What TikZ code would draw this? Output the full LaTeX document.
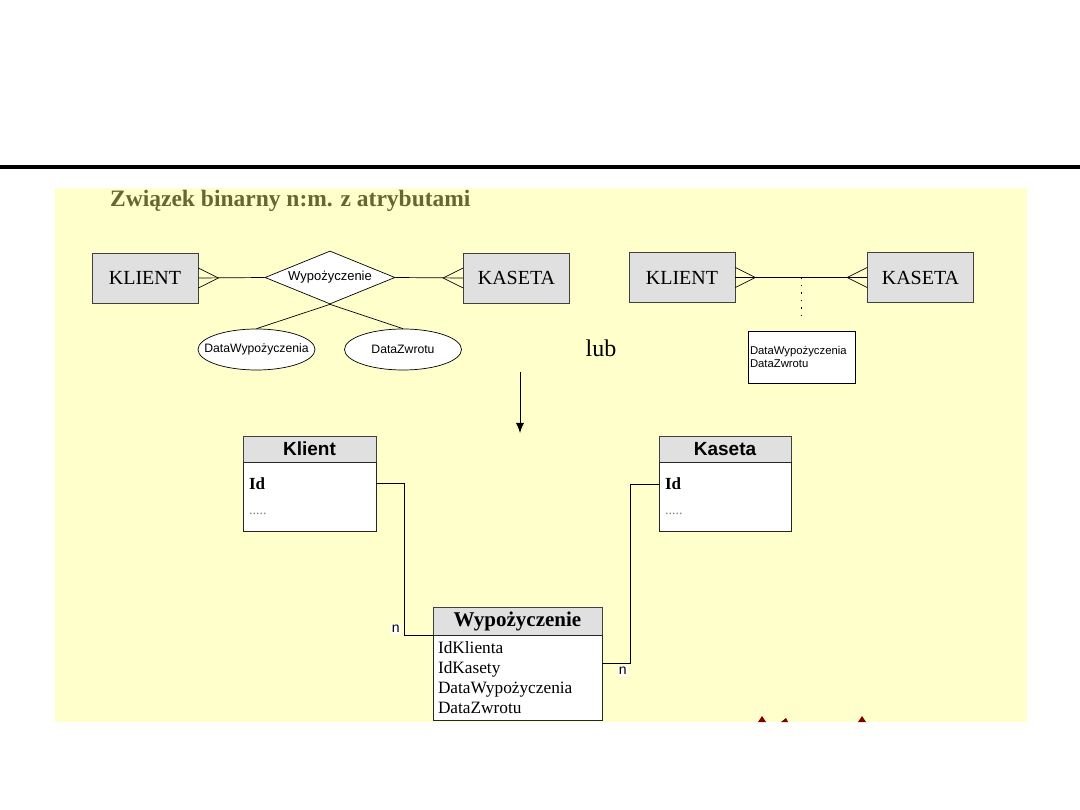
\documentclass[tikz,border=0pt]{standalone}
\usepackage{fontspec}
\setmainfont{Liberation Serif}
\setsansfont{Liberation Sans}
\usetikzlibrary{shapes.geometric, arrows, arrows.meta, positioning}
\definecolor{slideyellow}{RGB}{255,255,204}
\definecolor{entgray}{RGB}{224,224,224}
\definecolor{titleolive}{RGB}{102,102,51}
\definecolor{tipred}{RGB}{128,0,0}
\tikzstyle{arrow} = [line width=0.8pt,-{Latex[length=10pt,width=8pt]}]

\begin{document}
\begin{tikzpicture}[x=1pt, y=-1pt,
    ent/.style={rectangle, draw=black!75, fill=entgray, line width=0.8pt,
                minimum width=106pt, minimum height=50pt, inner sep=0pt,
                font=\fontsize{20}{24}\selectfont},
    rel/.style={diamond, draw=black, fill=white, line width=0.7pt, aspect=2.45,
                minimum width=130pt, minimum height=53pt, inner sep=0pt,
                font=\sffamily\fontsize{13}{15}\selectfont},
    attr/.style={ellipse, draw=black, fill=white, line width=0.7pt,
                 minimum width=117pt, minimum height=41pt, inner xsep=-15pt,
                 inner ysep=0pt, font=\sffamily\fontsize{12.2}{14}\selectfont},
    tblhead/.style={rectangle, draw=black!75, fill=entgray, line width=0.8pt,
                    minimum height=26pt, inner sep=0pt, outer sep=0pt, anchor=north},
    tblbody/.style={rectangle, draw=black!85, fill=white, line width=0.8pt,
                    inner xsep=6pt, inner ysep=0pt, outer sep=0pt, align=left},
    conn/.style={line width=0.7pt},
    nlbl/.style={fill=white, inner sep=1pt, font=\sffamily\fontsize{14}{16}\selectfont}
]
\useasboundingbox (0,0) rectangle (1080,810);

% --- slide frame ---
\draw[line width=4pt] (0,167) -- (1080,167);
\fill[slideyellow] (55,188) rectangle (1027,722);
\node[anchor=base west, text=titleolive, inner sep=0pt,
      font=\bfseries\fontsize{23.5}{27}\selectfont] (title) at (110,207)
    {Związek binarny n:m. z atrybutami};

% --- ER diagram with relationship diamond ---
\node[ent] (kl1) at (145,278) {KLIENT};
\node[ent] (ka1) at (516.5,278) {KASETA};
\node[rel] (dia) at (330,277.5) {Wypożyczenie};
\node[attr] (el1) at (256.5,349.5) {DataWypożyczenia};
\node[attr] (el2) at (403,349.5) {DataZwrotu};

\draw[conn] (kl1.east) -- (dia.west);
\draw[conn] ([yshift=10pt]kl1.east) -- ++(20,10) -- ([yshift=-10pt]kl1.east);
\draw[conn] (ka1.west) -- (dia.east);
\draw[conn] ([yshift=10pt]ka1.west) -- ++(-20,10) -- ([yshift=-10pt]ka1.west);
\draw[conn] (dia.south) -- (el1.north);
\draw[conn] (dia.south) -- (el2.north);

\node[font=\fontsize{24}{28}\selectfont] (lub) at (601,348) {lub};

% --- ER diagram with attribute box ---
\node[ent] (kl2) at (682,277.5) {KLIENT};
\node[ent] (ka2) at (920.5,277.5) {KASETA};
\node[rectangle, draw=black, fill=white, line width=0.7pt, minimum width=107pt,
      minimum height=52pt, inner xsep=2pt, text width=103pt, align=left,
      font=\sffamily\fontsize{11.3}{13}\selectfont] (attrbox) at (801.5,357)
    {DataWypożyczenia\\DataZwrotu};

\draw[conn] (kl2.east) -- (ka2.west);
\draw[conn] ([yshift=10pt]kl2.east) -- ++(20,10) -- ([yshift=-10pt]kl2.east);
\draw[conn] ([yshift=10pt]ka2.west) -- ++(-20,10) -- ([yshift=-10pt]ka2.west);
\draw[conn, dash pattern=on 1.5pt off 6pt]
    (attrbox.north |- kl2.east) -- ([yshift=9pt]attrbox.north);

% --- transformation arrow ---
\coordinate (arr_top) at (520,372);
\coordinate (arr_end) at (520,433);
\draw[arrow] (arr_top) -- (arr_end);

% --- relational tables ---
\node[tblhead, minimum width=133pt, font=\sffamily\bfseries\fontsize{19}{22}\selectfont]
    (kl_head) at (309.5,436) {Klient};
\node[tblbody, below=0pt of kl_head, minimum width=133pt, minimum height=69pt,
      text width=121pt, font=\fontsize{17}{25}\selectfont] (kl_body)
    {\textbf{Id}\\{\color{black!50}\fontsize{14}{25}\selectfont .....}};

\node[tblhead, minimum width=132pt, font=\sffamily\bfseries\fontsize{19}{22}\selectfont]
    (ka_head) at (725,436) {Kaseta};
\node[tblbody, below=0pt of ka_head, minimum width=132pt, minimum height=69pt,
      text width=120pt, font=\fontsize{17}{25}\selectfont] (ka_body)
    {\textbf{Id}\\{\color{black!50}\fontsize{14}{25}\selectfont .....}};

\node[tblhead, minimum width=169pt, minimum height=28pt,
      font=\bfseries\fontsize{21}{24}\selectfont] (wy_head) at (517.5,607) {Wypożyczenie};
\node[tblbody, below=0pt of wy_head, minimum width=169pt, minimum height=85pt,
      inner xsep=5pt, text width=159pt, font=\fontsize{17.3}{20}\selectfont] (wy_body)
    {IdKlienta\\IdKasety\\DataWypożyczenia\\DataZwrotu};

\draw[conn] ([yshift=-21pt]kl_body.north east) -- ++(28,0) |- (wy_head.south west)
    node[nlbl, pos=0.5, anchor=south east, xshift=-3pt, yshift=1pt] (n_kl) {n};
\draw[conn] ([yshift=-28pt]wy_body.north east) -- ++(28,0)
    node[nlbl, pos=1, anchor=north east, xshift=-2pt, yshift=-3pt] (n_ka) {n}
    |- ([yshift=-22pt]ka_body.north west);

% --- cut-off tips at the bottom edge ---
\fill[tipred] (762,716) -- (766,722) -- (758,722) -- cycle;
\fill[tipred] (786,718) -- (788,722) -- (781,722) -- cycle;
\fill[tipred] (862,716) -- (866,722) -- (858,722) -- cycle;

\end{tikzpicture}
\end{document}
